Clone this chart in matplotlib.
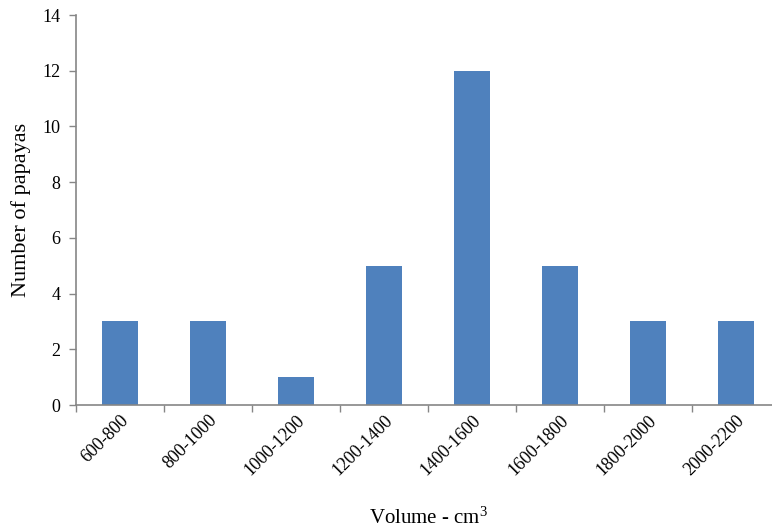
import matplotlib.pyplot as plt
import numpy as np

plt.rcParams['font.family'] = ['Liberation Serif', 'DejaVu Serif']
plt.rcParams['mathtext.default'] = 'regular'

categories = ["600-800", "800-1000", "1000-1200", "1200-1400",
              "1400-1600", "1600-1800", "1800-2000", "2000-2200"]
counts = [3, 3, 1, 5, 12, 5, 3, 3]

fig = plt.figure(figsize=(7.72, 5.32), dpi=100)
ax = fig.add_axes([76 / 772, 1 - 405 / 532, 704 / 772, 390 / 532])

x = np.arange(len(categories))
ax.bar(x, counts, width=0.4, color="#4F81BD", zorder=2)

ax.set_xlim(-0.5, len(categories) - 0.5)
ax.set_ylim(0, 14)
ax.set_yticks(range(0, 15, 2))

# category ticks sit between the bars
ax.set_xticks(np.arange(len(categories)) - 0.5, minor=False)
ax.set_xticklabels([])
ax.set_xticks(x, minor=True)
ax.set_xticklabels(categories, minor=True, rotation=45, ha="right",
                   rotation_mode="anchor", fontsize=13)
ax.tick_params(axis="x", which="minor", length=0, pad=5)
ax.tick_params(axis="x", which="major", length=5, color="#868686", width=1)
ax.tick_params(axis="y", length=5, color="#868686", width=1, labelsize=13, pad=6)

for side in ["top", "right"]:
    ax.spines[side].set_visible(False)
for side in ["left", "bottom"]:
    ax.spines[side].set_color("#868686")
    ax.spines[side].set_linewidth(1.2)

ax.set_ylabel("Number of papayas", fontsize=16)
ax.yaxis.set_label_coords(-55 / 704, 0.5)
ax.yaxis.label.set_va("center")
ax.set_xlabel("Volume - cm$^{3}$", fontsize=15)
ax.xaxis.set_label_coords((429 - 76) / 704, -(518 - 405) / 390)
ax.xaxis.label.set_va("center")

fig.savefig("out.png", dpi=100)
